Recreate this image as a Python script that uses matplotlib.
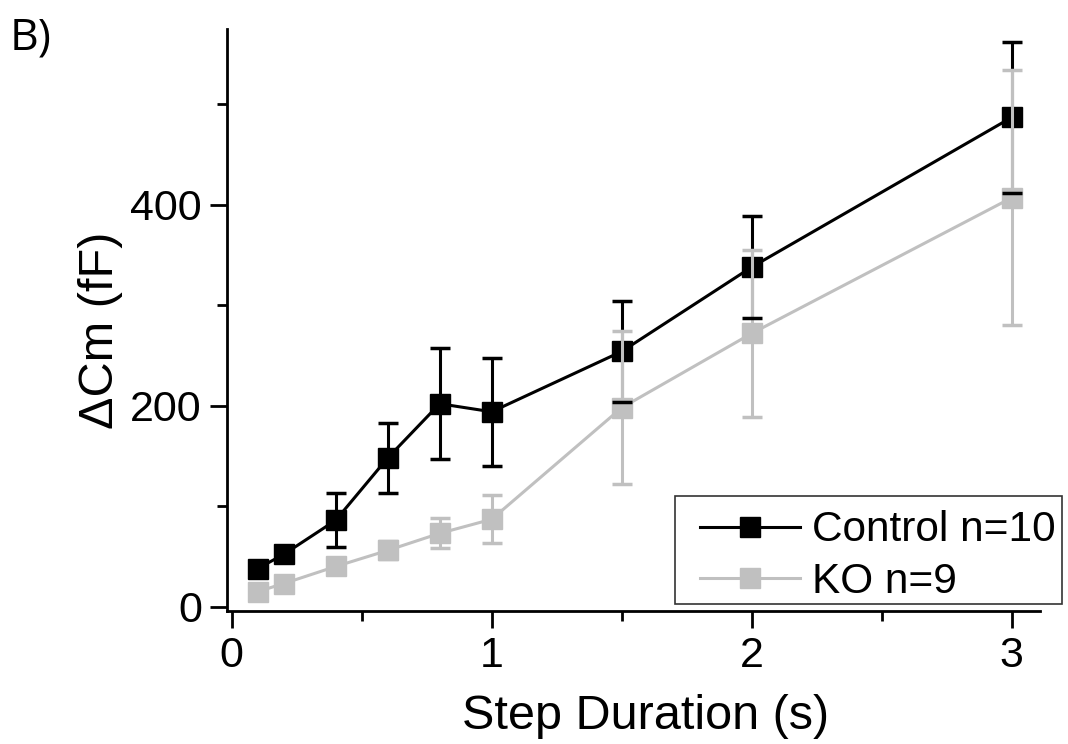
import matplotlib
matplotlib.use("Agg")
import matplotlib.pyplot as plt
from matplotlib.lines import Line2D
from matplotlib.patches import Rectangle
from matplotlib.ticker import MultipleLocator

plt.rcParams['font.family'] = ['Liberation Sans', 'DejaVu Sans']

# step durations (s)
durations = [0.1, 0.2, 0.4, 0.6, 0.8, 1.0, 1.5, 2.0, 3.0]

# delta Cm (fF), mean and error
control_mean = [38, 52, 86, 148, 202, 194, 254, 338, 487]
control_err = [6, 7, 27, 35, 55, 54, 50, 51, 75]
ko_mean = [15, 23, 40, 56, 73, 87, 198, 272, 407]
ko_err = [5, 6, 7, 9, 15, 24, 76, 83, 127]

labels = ["Control n=10", "KO n=9"]
black = "#000000"
gray = "#c0c0c0"

W, H = 1068, 744
fig = plt.figure(figsize=(W / 100, H / 100), dpi=100)
ax = fig.add_axes([227 / W, 1 - 611 / H, (1040 - 227) / W, (611 - 29) / H])

# control first, KO on top, control caps above everything (as in the original)
c_line, c_caps, c_bars = ax.errorbar(durations, control_mean, yerr=control_err, color=black,
                                     marker="s", markersize=14, lw=2.2, elinewidth=2.2,
                                     capsize=7, capthick=2.5, zorder=2)
k_line, k_caps, k_bars = ax.errorbar(durations, ko_mean, yerr=ko_err, color=gray,
                                     marker="s", markersize=14, lw=2.2, elinewidth=2.2,
                                     capsize=7, capthick=2.5, zorder=3)
for cap in c_caps:
    cap.set_zorder(4)

ax.set_xlim(-0.018, 3.109)
ax.set_ylim(-4.3, 575)
ax.xaxis.set_major_locator(MultipleLocator(1))
ax.xaxis.set_minor_locator(MultipleLocator(0.5))
ax.yaxis.set_major_locator(MultipleLocator(200))
ax.yaxis.set_minor_locator(MultipleLocator(100))

for side in ["top", "right"]:
    ax.spines[side].set_visible(False)
for side in ["left", "bottom"]:
    ax.spines[side].set_linewidth(2)

ax.tick_params(which="major", length=12, width=2, labelsize=31, pad=6)
ax.tick_params(which="minor", length=7, width=2)

ax.set_xlabel("Step Duration (s)", fontsize=35)
ax.set_ylabel("\u0394Cm (fF)", fontsize=35)
ax.xaxis.set_label_coords(0.515, -0.143)
ax.yaxis.set_label_coords(-0.128, 0.483)

# legend: frame drawn separately so the box can run past the axis end
fig.patches.append(Rectangle((675 / W, 1 - 604 / H), (1062 - 675) / W, (604 - 496) / H,
                             transform=fig.transFigure, fill=False,
                             edgecolor="#333333", lw=1.2, zorder=5))
handles = [Line2D([], [], color=black, marker="s", markersize=14, lw=2.2),
           Line2D([], [], color=gray, marker="s", markersize=14, lw=2.2)]
fig.legend(handles, labels, loc="center left", bbox_to_anchor=(700 / W, 1 - 556 / H),
           fontsize=30.5, frameon=False, handlelength=2.35, handletextpad=0.3,
           labelspacing=0.26, borderpad=0, borderaxespad=0)

fig.text(10 / W, 1 - 16 / H, "B)", fontsize=32, family=["Open Sans", "DejaVu Sans"],
         ha="left", va="top")

fig.savefig("out.png", dpi=100)
